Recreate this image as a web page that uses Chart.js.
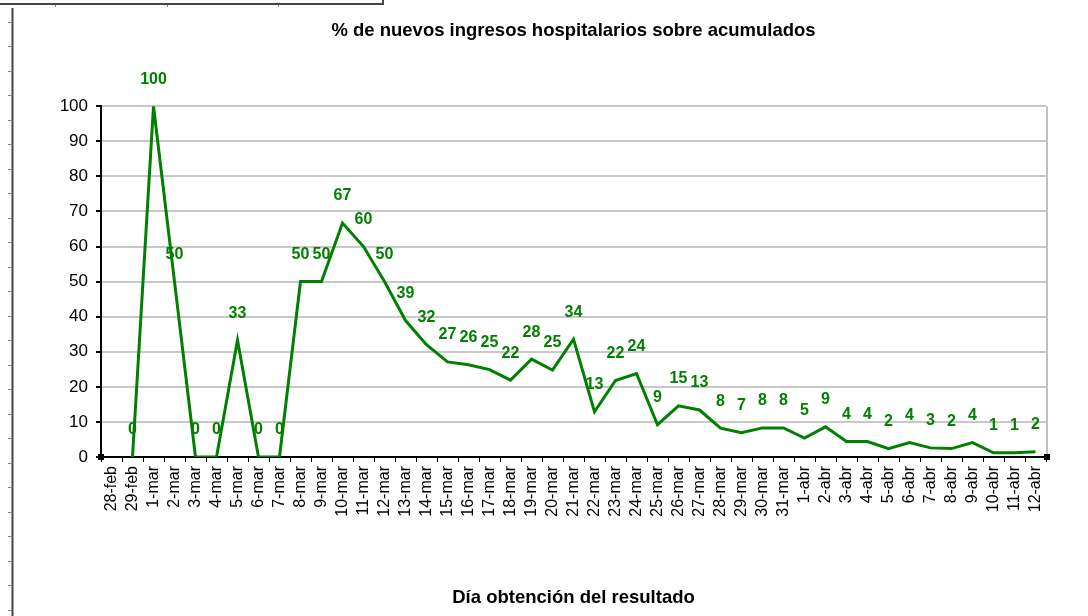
<!DOCTYPE html>
<html>
<head>
<meta charset="utf-8">
<script src="https://cdn.jsdelivr.net/npm/chart.js@4"></script>
<style>
  body { margin: 0; background: #fff; }
  #wrap { width: 1088px; height: 616px; position: relative; }
</style>
</head>
<body>
<div id="wrap"><canvas id="myChart"></canvas></div>
<script>
const days = [
  "28-feb", "29-feb",
  "1-mar", "2-mar", "3-mar", "4-mar", "5-mar", "6-mar", "7-mar", "8-mar", "9-mar", "10-mar",
  "11-mar", "12-mar", "13-mar", "14-mar", "15-mar", "16-mar", "17-mar", "18-mar", "19-mar", "20-mar",
  "21-mar", "22-mar", "23-mar", "24-mar", "25-mar", "26-mar", "27-mar", "28-mar", "29-mar", "30-mar", "31-mar",
  "1-abr", "2-abr", "3-abr", "4-abr", "5-abr", "6-abr", "7-abr", "8-abr", "9-abr", "10-abr", "11-abr", "12-abr"
];
// % nuevos ingresos sobre acumulados
const pct = [
  null, 0,
  100, 50, 0, 0, 33.3, 0, 0, 50, 50, 66.7,
  60, 50, 38.9, 32, 27.1, 26.3, 24.9, 21.9, 27.9, 24.8,
  33.6, 12.9, 21.8, 23.8, 9.2, 14.6, 13.4, 8.2, 6.9, 8.3, 8.3,
  5.4, 8.6, 4.4, 4.4, 2.4, 4.1, 2.6, 2.4, 4.1, 1.2, 1.2, 1.5
];
const yMin = 0, yMax = 100, yStep = 10;

const green = "#008000";
const font = '"Liberation Sans", Arial, sans-serif';

const valueLabels = {
  id: "valueLabels",
  afterDatasetsDraw(chart) {
    const ctx = chart.ctx;
    const meta = chart.getDatasetMeta(0);
    ctx.save();
    ctx.font = "bold 16px " + font;
    ctx.fillStyle = green;
    ctx.textAlign = "center";
    ctx.textBaseline = "middle";
    meta.data.forEach((pt, i) => {
      if (pct[i] === null) return;
      ctx.fillText(Math.round(pct[i]), pt.x, pt.y - 27);
    });
    ctx.restore();
  }
};

// sheet frame bits around the chart, right border of plot, selection handles
const frame = {
  id: "frame",
  beforeDraw(chart) {
    const ctx = chart.ctx;
    ctx.save();
    ctx.strokeStyle = "#444";
    ctx.lineWidth = 2;
    ctx.beginPath();
    ctx.moveTo(0, 4); ctx.lineTo(383, 4); ctx.lineTo(383, 0);
    ctx.moveTo(12.5, 8); ctx.lineTo(12.5, 616);
    ctx.stroke();
    ctx.lineWidth = 1;
    ctx.strokeStyle = "#888";
    ctx.beginPath();
    [55, 167, 278].forEach((x) => { ctx.moveTo(x + 0.5, 5); ctx.lineTo(x + 0.5, 7); });
    for (let y = 21.7; y < 616; y += 24.5) {
      ctx.moveTo(8, Math.round(y) + 0.5); ctx.lineTo(12, Math.round(y) + 0.5);
    }
    ctx.stroke();
    ctx.restore();
  },
  afterDraw(chart) {
    const { ctx, chartArea } = chart;
    ctx.save();
    ctx.strokeStyle = "#c0c0c0";
    ctx.lineWidth = 2;
    ctx.beginPath();
    ctx.moveTo(chartArea.right + 1, chartArea.top);
    ctx.lineTo(chartArea.right + 1, chartArea.bottom);
    ctx.stroke();
    ctx.fillStyle = "#000";
    ctx.fillRect(chartArea.left - 3, chartArea.bottom - 3, 6, 6);
    ctx.fillRect(chartArea.right - 2, chartArea.bottom - 3, 6, 6);
    ctx.restore();
  }
};

const ctx = document.getElementById("myChart");

var myChart = new Chart(ctx, {
  type: "line",
  data: {
    labels: days,
    datasets: [
      {
        label: "% nuevos ingresos",
        data: pct,
        borderColor: green,
        borderWidth: 3,
        pointRadius: 0,
        tension: 0,
        fill: false,
      },
    ],
  },
  options: {
    responsive: true,
    maintainAspectRatio: false,
    animation: false,
    layout: { padding: { left: 0, right: 42, top: 0, bottom: 0 } },
    plugins: {
      legend: { display: false },
      tooltip: { enabled: false },
      title: {
        display: true,
        text: "% de nuevos ingresos hospitalarios sobre acumulados",
        color: "#000",
        fullSize: false,
        font: { family: font, size: 18.5, weight: "bold" },
        padding: { top: 20, bottom: 64 },
      },
    },
    scales: {
      x: {
        offset: true,
        afterFit: (scale) => { scale.height = 159; },
        grid: {
          offset: true,
          drawOnChartArea: false,
          tickLength: 5,
          tickColor: "#000",
        },
        border: { color: "#000", width: 2 },
        ticks: {
          autoSkip: false,
          minRotation: 90,
          maxRotation: 90,
          padding: 4,
          color: "#000",
          font: { family: font, size: 16 },
        },
        title: {
          display: true,
          text: "Día obtención del resultado",
          color: "#000",
          font: { family: font, size: 18.5, weight: "bold" },
          padding: { top: 0, bottom: 7 },
        },
      },
      y: {
        min: yMin,
        max: yMax,
        afterFit: (scale) => { scale.width = 101; },
        grid: {
          color: "#c8c8c8",
          lineWidth: 2,
          tickLength: 5,
          tickColor: "#000",
        },
        border: { color: "#000", width: 2 },
        ticks: {
          stepSize: yStep,
          padding: 8,
          color: "#000",
          font: { family: font, size: 17 },
        },
      },
    },
  },
  plugins: [valueLabels, frame],
});
</script>
</body>
</html>
